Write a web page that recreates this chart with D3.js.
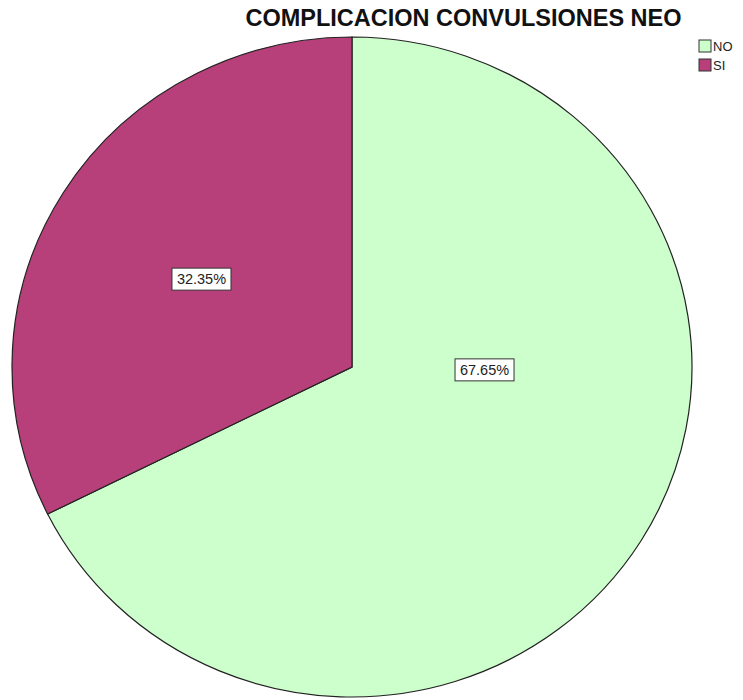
<!DOCTYPE html>
<html>
<head>
<meta charset="utf-8">
<script src="https://cdn.jsdelivr.net/npm/d3@7/dist/d3.min.js"></script>
<style>
  body { margin: 0; background: #fff; }
  svg { display: block; font-family: "Liberation Sans", Arial, sans-serif; }
</style>
</head>
<body>
<div id="chart"></div>
<script>
// data
var categories = ["NO", "SI"];
var percents = [67.65, 32.35];
var colors = ["#ccffcc", "#b8407a"];
var title = "COMPLICACION CONVULSIONES NEO";

var width = 743, height = 700;
var cx = 352, cy = 367, rx = 340, ry = 330;

var data = categories.map((c, i) => ({ cat: c, value: percents[i], color: colors[i] }));

var svg = d3.select("#chart").append("svg")
    .attr("width", width)
    .attr("height", height);

// title
svg.append("text")
    .attr("x", 463.5)
    .attr("y", 26)
    .attr("text-anchor", "middle")
    .attr("font-size", "23.5px")
    .attr("font-weight", "bold")
    .attr("fill", "#111")
    .text(title);

var pie = d3.pie().sort(null).value(d => d.value);
var arc = d3.arc().innerRadius(0).outerRadius(rx);
var arcs = pie(data);

// pie is a bit squashed vertically in the original
var g = svg.append("g")
    .attr("transform", "translate(" + cx + "," + cy + ") scale(1," + (ry / rx) + ")");

g.selectAll(".slice")
    .data(arcs)
    .enter()
    .append("path")
    .attr("class", "slice")
    .attr("d", arc)
    .attr("fill", d => d.data.color)
    .attr("stroke", "#222")
    .attr("stroke-width", 1.2)
    .attr("vector-effect", "non-scaling-stroke");

// labels: SPSS puts the big slice label nearer the middle
var labelArc = d3.arc().innerRadius(0).outerRadius(rx);
var nudge = { NO: [-12, -84], SI: [-6, -1] };

var labels = svg.selectAll(".lbl")
    .data(arcs)
    .enter()
    .append("g")
    .attr("class", "lbl")
    .attr("transform", d => {
        var c = labelArc.centroid(d);
        var n = nudge[d.data.cat];
        return "translate(" + (cx + c[0] + n[0]) + "," + (cy + c[1] * ry / rx + n[1]) + ")";
    });

labels.append("rect")
    .attr("x", -29.5)
    .attr("y", -11)
    .attr("width", 59)
    .attr("height", 22)
    .attr("fill", "#fff")
    .attr("stroke", "#333")
    .attr("stroke-width", 1);

labels.append("text")
    .attr("text-anchor", "middle")
    .attr("dy", "0.36em")
    .attr("font-size", "14.5px")
    .attr("fill", "#222")
    .text(d => d.data.value.toFixed(2) + "%");

// legend
var legend = svg.selectAll(".leg")
    .data(data)
    .enter()
    .append("g")
    .attr("class", "leg")
    .attr("transform", (d, i) => "translate(699," + (40 + i * 19) + ")");

legend.append("rect")
    .attr("width", 12)
    .attr("height", 12)
    .attr("fill", d => d.color)
    .attr("stroke", "#333")
    .attr("stroke-width", 1);

legend.append("text")
    .attr("x", 14)
    .attr("y", 6)
    .attr("dy", "0.36em")
    .attr("font-size", "13px")
    .attr("fill", "#222")
    .text(d => d.cat);
</script>
</body>
</html>
